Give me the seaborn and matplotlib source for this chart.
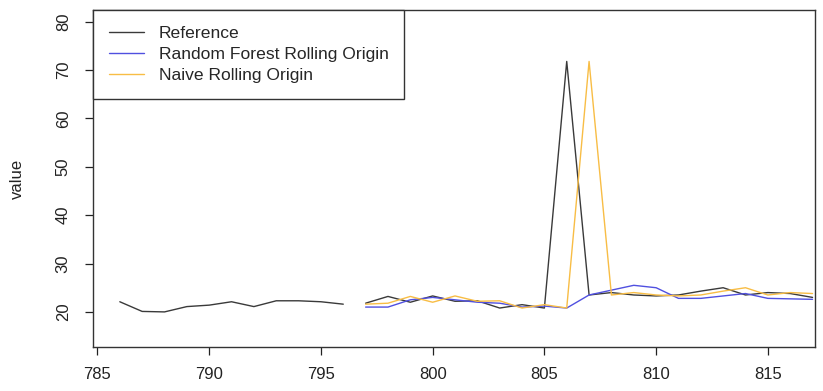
import numpy as np
import pandas as pd
import matplotlib
matplotlib.use("Agg")
import matplotlib.pyplot as plt
import seaborn as sns

# training part of the series
train_t = list(range(786, 797))
train_ref = [22.1, 20.1, 20.0, 21.1, 21.4, 22.1, 21.1, 22.3, 22.3, 22.1, 21.6]

# test part
test_t = list(range(797, 818))
test_ref = [21.8, 23.2, 22.0, 23.3, 22.2, 22.3, 20.8, 21.5, 20.8, 71.8, 23.5,
            24.0, 23.5, 23.3, 23.5, 24.3, 25.0, 23.5, 24.0, 23.8, 23.0]
rf_pred = [21.0, 21.0, 22.5, 23.0, 22.5, 22.0, 21.8, 21.0, 21.2, 20.8, 23.5,
           24.5, 25.5, 25.0, 22.8, 22.8, 23.3, 23.8, 22.8, 22.7, 22.6]
naive_pred = [21.6, 21.8, 23.2, 22.0, 23.3, 22.2, 22.3, 20.8, 21.5, 20.8, 71.8,
              23.5, 24.0, 23.5, 23.3, 23.5, 24.3, 25.0, 23.5, 24.0, 23.8]

x_ticks = [785, 790, 795, 800, 805, 810, 815]
y_ticks = [20, 30, 40, 50, 60, 70, 80]

sns.set_style("ticks")
plt.rcParams['font.family'] = ['Liberation Sans', 'DejaVu Sans']

fig = plt.figure(figsize=(8.23, 3.91), dpi=100)
ax = fig.add_axes([0.113, 0.112, 0.877, 0.862])

c_ref = '#3a3a3a'
c_rf = '#5050e0'
c_nv = '#f8bd45'

sns.lineplot(x=train_t, y=train_ref, color=c_ref, lw=1.0, ax=ax)
sns.lineplot(x=test_t, y=test_ref, color=c_ref, lw=1.0, ax=ax, label="Reference")
sns.lineplot(x=test_t, y=rf_pred, color=c_rf, lw=1.0, ax=ax, label="Random Forest Rolling Origin")
sns.lineplot(x=test_t, y=naive_pred, color=c_nv, lw=1.0, ax=ax, label="Naive Rolling Origin")

ax.set_xlim(784.8, 817.1)
ax.set_ylim(12.7, 82.4)
ax.set_xticks(x_ticks)
ax.set_yticks(y_ticks)
ax.set_xlabel("")
ax.set_ylabel("value", fontsize=12, color='#222222', labelpad=22)
ax.tick_params(axis='both', direction='out', length=6, width=0.9, labelsize=12, colors='#222222')
ax.tick_params(axis='x', pad=8)
ax.tick_params(axis='y', pad=10)
for lbl in ax.get_yticklabels():
    lbl.set_rotation(90)
    lbl.set_va('center')
for s in ax.spines.values():
    s.set_visible(True)
    s.set_color('#333333')
    s.set_linewidth(1.0)

leg = ax.legend(loc='upper left', bbox_to_anchor=(0, 1), borderaxespad=0,
                fancybox=False, framealpha=1, edgecolor='#333333', fontsize=12.6,
                handlelength=2.0, handletextpad=0.85, borderpad=0.9, labelspacing=0.33)
leg.get_frame().set_linewidth(1.0)

plt.savefig("out.png", dpi=100)
